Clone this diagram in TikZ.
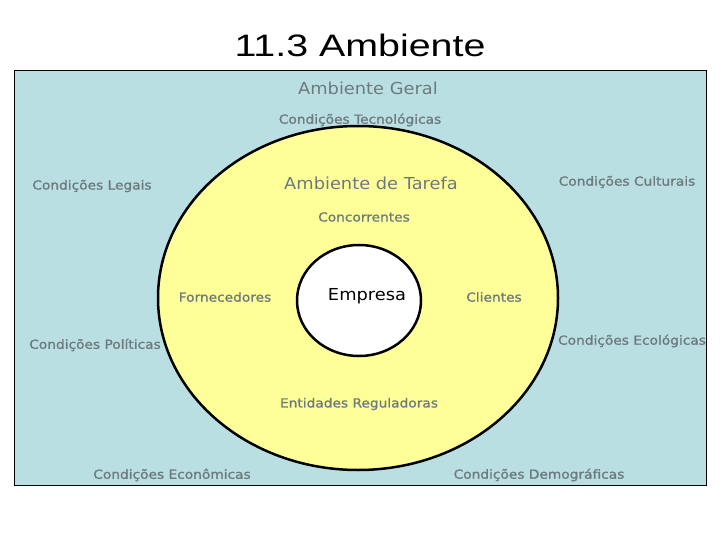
\documentclass[tikz,border=0pt]{standalone}
\usepackage{fontspec}
\usetikzlibrary{shapes.geometric}
\setmainfont{DejaVu Sans}
\newfontfamily\titlefont[FakeStretch=1.27]{Liberation Sans}
\newfontfamily\smallfont[FakeStretch=1.1,FakeBold=1.2]{DejaVu Sans}
\newfontfamily\bigfont[FakeStretch=1.08]{DejaVu Sans}
\definecolor{bgblue}{HTML}{BADFE3}
\definecolor{ylw}{HTML}{FFFF99}
\definecolor{lblgray}{HTML}{6D7A7D}
\begin{document}
\begin{tikzpicture}[x=1pt,y=-1pt,
  small/.style={text=lblgray,font=\smallfont\fontsize{12.5}{14}\selectfont,inner sep=0pt},
  big/.style={text=lblgray,font=\bigfont\fontsize{16.5}{19}\selectfont,inner sep=0pt},
  ring/.style={draw=black,line width=2.5pt,ellipse,inner sep=0pt}]
\useasboundingbox (0,0) rectangle (720,540);
\node[font=\titlefont\fontsize{31}{36}\selectfont,inner sep=0pt] (title) at (360,45) {11.3 Ambiente};
\draw[fill=bgblue,line width=1pt] (14,71) rectangle (706,485);
\node[ring,fill=ylw,minimum width=400pt,minimum height=344pt] (tarefa) at (358,298) {};
\node[ring,fill=white,minimum width=124pt,minimum height=111pt] (emp) at (359,300.5) {};
\node[big] (geral) at (368,88) {Ambiente Geral};
\node[small] (tec) at (360,120) {Condições Tecnológicas};
\node[small] (leg) at (92,186) {Condições Legais};
\node[big] (amt) at (371,183) {Ambiente de Tarefa};
\node[small] (cul) at (627,182) {Condições Culturais};
\node[small] (conc) at (364,217) {Concorrentes};
\node[small] (forn) at (225,297) {Fornecedores};
\node[big,text=black] (empresa) at (367,296) {Empresa};
\node[small] (cli) at (494,297) {Clientes};
\node[small] (pol) at (95,345) {Condições Políticas};
\node[small] (eco) at (632,341) {Condições Ecológicas};
\node[small] (ent) at (359,404) {Entidades Reguladoras};
\node[small] (econ) at (172,475) {Condições Econômicas};
\node[small] (dem) at (539,475) {Condições Demográficas};
\end{tikzpicture}
\end{document}
